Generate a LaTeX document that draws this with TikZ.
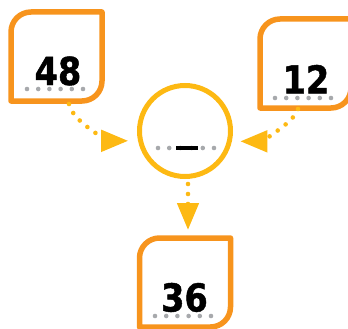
\documentclass[tikz,border=0pt]{standalone}
\usepackage{fontspec}
\setmainfont{DejaVu Sans}
\newfontfamily\numfont[FakeStretch=0.87,FakeBold=1.2]{DejaVu Sans Bold}
\usetikzlibrary{arrows.meta}
\definecolor{boxorange}{HTML}{F7941D}
\definecolor{opyellow}{HTML}{FDB913}
\definecolor{dotgray}{HTML}{A7A9AC}
\tikzset{
  leaf/.style={rectangle, draw=none, outer sep=0pt, inner sep=0pt, minimum width=91pt, minimum height=89pt},
  leafline/.style={draw=boxorange, line width=5.5pt, line join=round},
  opcircle/.style={circle, draw=opyellow, line width=5pt, minimum size=91pt, inner sep=0pt},
  numtext/.style={font=\numfont\fontsize{38.5}{38.5}\selectfont, anchor=base, inner sep=0pt},
  dotrow/.style={dotgray, line width=4.6pt, line cap=round, dash pattern=on 0pt off 11.2pt},
  blankrule/.style={black, line width=4.4pt},
  flow/.style={opyellow, line width=4.6pt, line cap=round, dash pattern=on 0pt off 10pt,
    -{Triangle[length=27pt,width=21pt]}},
}
\newcommand\leafoutline[1]{%
  \draw[leafline] (#1.south west) -- ([yshift=-20pt]#1.north west)
    arc[start angle=180,end angle=90,radius=20pt] -- (#1.north east)
    -- ([yshift=20pt]#1.south east)
    arc[start angle=0,end angle=-90,radius=20pt] -- cycle;}
\begin{document}
\begin{tikzpicture}[x=1pt,y=1pt]
  \clip (0,0) rectangle (348,-329);
  % boxes
  \node[leaf] (b48) at (56.5,-56.5) {};
  \node[leaf] (b12) at (305.5,-63.5) {};
  \node[leaf] (b36) at (185,-282.5) {};
  \leafoutline{b48}
  \leafoutline{b12}
  \leafoutline{b36}
  % operator circle
  \node[opcircle] (op) at (185,-131) {};
  % numbers
  \node[numtext] (n48) at (58,-85) {48};
  \node[numtext] (n12) at (306,-93.5) {12};
  \node[numtext] (n36) at (184.5,-311.5) {36};
  \draw[dotrow] ([shift={(-31pt,-4pt)}]n48.base) -- ++(57,0);
  \draw[dotrow] ([shift={(-31pt,-4.5pt)}]n12.base) -- ++(57,0);
  \draw[dotrow] ([shift={(-29.5pt,-4.5pt)}]n36.base) -- ++(57,0);
  % blank in circle
  \draw[dotrow] ([shift={(-27pt,-17pt)}]op.center) -- ++(57,0);
  \draw[blankrule] ([shift={(-9pt,-17pt)}]op.center) -- ++(22,0);
  % connectors
  \coordinate (s48) at ([shift={(12.5pt,-3pt)}]b48.south);
  \coordinate (s12) at ([shift={(-7.5pt,-1pt)}]b12.south);
  \draw[flow] (s48) .. controls +(4,-20) and +(-15,0) .. ([xshift=-9.5pt,yshift=-1.5pt]op.190);
  \draw[flow] (s12) .. controls +(-5,-16) and +(17,0) .. ([xshift=8pt,yshift=-2pt]op.-10);
  \draw[flow, dash phase=5pt] ([xshift=3pt]op.south) -- ([xshift=3pt,yshift=8pt]b36.north);
\end{tikzpicture}
\end{document}
